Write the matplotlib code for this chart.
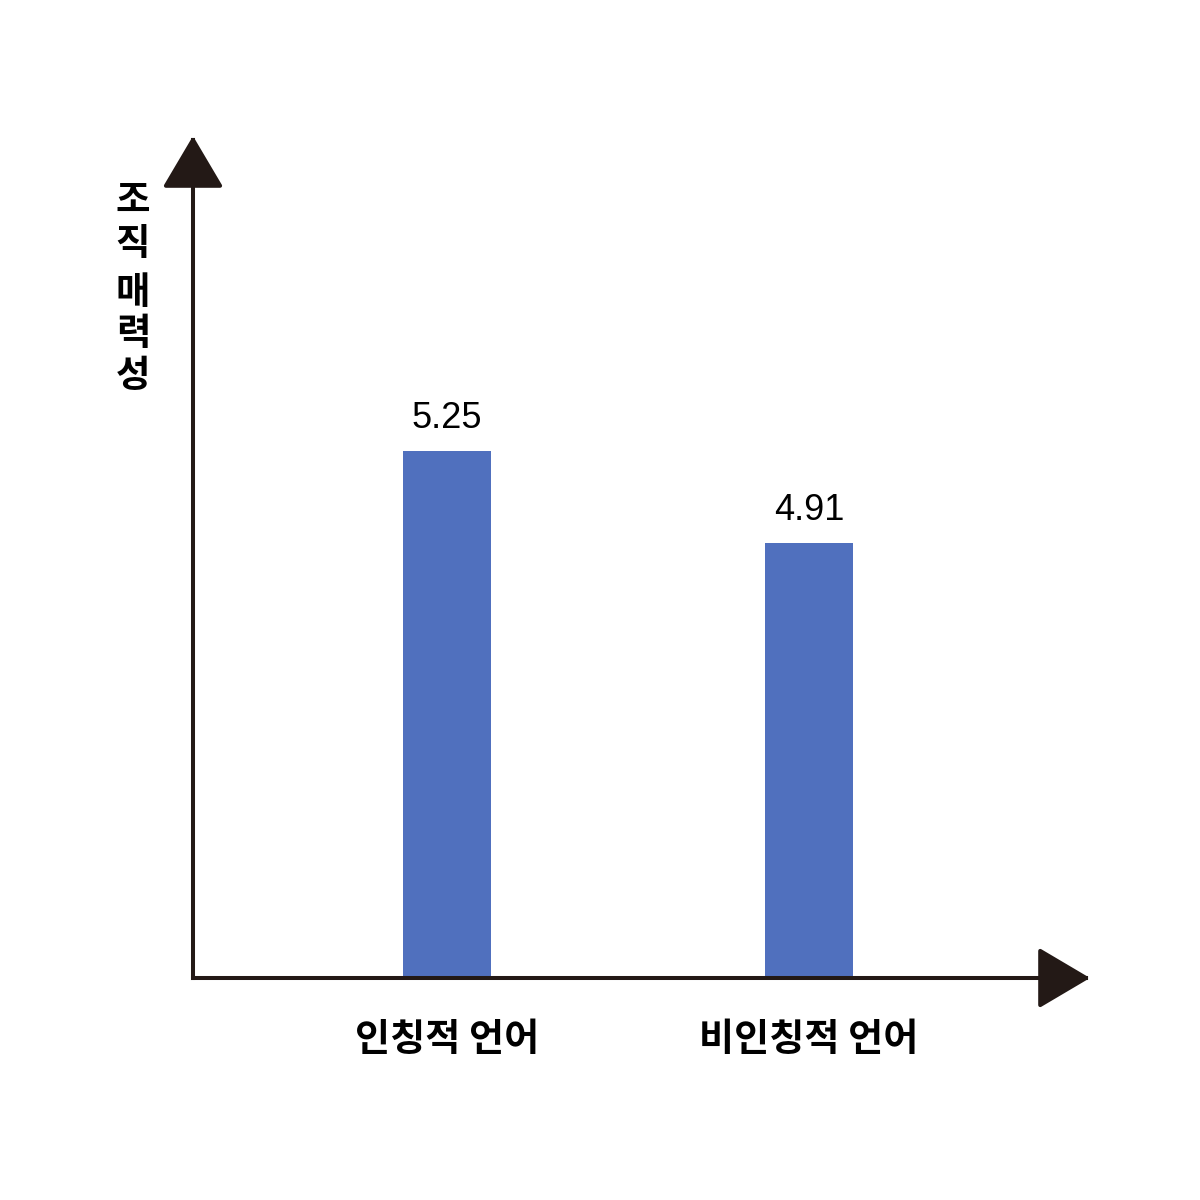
import matplotlib
matplotlib.use('Agg')
import matplotlib.pyplot as plt

categories = ['인칭적 언어', '비인칭적 언어']
values = [5.25, 4.91]
value_labels = ['5.25', '4.91']
y_label = '조직 매력성'

plt.rcParams['font.family'] = ['Noto Sans CJK KR', 'DejaVu Sans']

W = H = 1200
fig = plt.figure(figsize=(12, 12), dpi=100)
fig.patch.set_facecolor('white')

x0px, y0px = 193, 978
xtip, ytip = 1090, 136
ax = fig.add_axes([x0px / W, (H - y0px) / H, (xtip - x0px) / W, (y0px - ytip) / H])
xmin, xmax = -0.7017, 1.7762
ymin, ymax = 3.303, 6.414
ax.set_xlim(xmin, xmax)
ax.set_ylim(ymin, ymax)
ax.axis('off')

axis_color = '#231916'
bar_color = '#5070BE'

xs = list(range(len(categories)))
ax.bar(xs, values, width=0.243, color=bar_color, zorder=2)

# axes with arrow heads
arrow_kw = dict(arrowstyle='-|>,head_length=33,head_width=19.5', mutation_scale=1,
                color=axis_color, lw=2.9, shrinkA=0, shrinkB=0, capstyle='projecting')
ax.annotate('', xy=(xmax, ymin), xytext=(xmin, ymin), xycoords='data',
            arrowprops=arrow_kw, annotation_clip=False, zorder=3)
ax.annotate('', xy=(xmin, ymax), xytext=(xmin, ymin), xycoords='data',
            arrowprops=arrow_kw, annotation_clip=False, zorder=3)

# value labels
for x, v, lab in zip(xs, values, value_labels):
    ax.annotate(lab, xy=(x, v), xytext=(0, 16.5), textcoords='offset points',
                ha='center', va='baseline', fontsize=26,
                family=['Liberation Sans', 'DejaVu Sans'], color='black',
                annotation_clip=False)

# category labels
for x, c in zip(xs, categories):
    ax.annotate(c, xy=(x, ymin), xytext=(0, -44), textcoords='offset points',
                ha='center', va='center', fontsize=27.5, fontweight='bold',
                color='black', annotation_clip=False)

# vertical stacked y label
ypos = 201
for ch in y_label:
    if ch == ' ':
        ypos += 7
        continue
    fig.text(133 / W, 1 - ypos / H, ch, ha='center', va='center', fontsize=27,
             fontweight='bold', color='black')
    ypos += 42

fig.savefig('out.png', dpi=100, facecolor='white')
